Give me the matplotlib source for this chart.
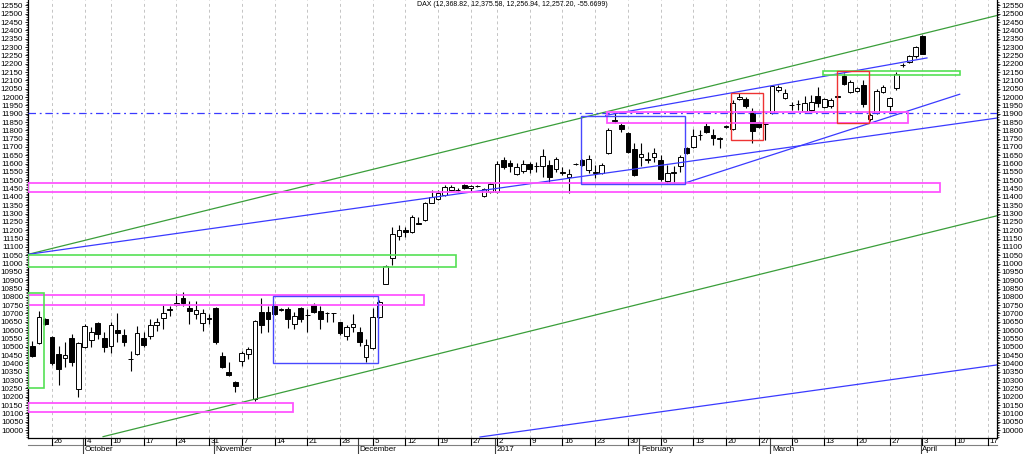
import matplotlib
matplotlib.use('Agg')
import matplotlib.pyplot as plt
import numpy as np
import pandas as pd
from matplotlib.patches import Rectangle
from matplotlib.transforms import blended_transform_factory

plt.rcParams['font.family'] = ['Liberation Sans', 'DejaVu Sans']

# trading days on the chart (Xetra closed on 3 Oct and 26 Dec)
days = pd.bdate_range('2016-09-21', '2017-04-03')
days = days[~days.isin(pd.to_datetime(['2016-10-03', '2016-12-26']))]
# empty space right of the last bar
future = pd.bdate_range('2017-04-04', '2017-04-18')
alldays = days.append(future)

opens = [10502, 10522, 10666, 10560, 10456, 10430, 10552, 10246,
         10496, 10542, 10642, 10552, 10502, 10602, 10572, 10428, 10456,
         10550, 10566, 10630, 10670, 10720, 10750, 10790, 10732, 10696, 10642,
         10668, 10730, 10446, 10346, 10286, 10416, 10456, 10186, 10707, 10707,
         10745, 10721, 10725, 10637, 10731, 10690, 10751, 10717, 10700, 10700,
         10651, 10565, 10617, 10591, 10437, 10491, 10681, 10880, 11032, 11166,
         11202, 11192, 11244, 11262, 11366, 11386, 11412, 11442, 11440, 11472,
         11452, 11464, 11406, 11432, 11432, 11622, 11602, 11538, 11558,
         11596, 11584, 11586, 11592, 11566, 11544, 11518, 11596, 11622, 11562,
         11544, 11546, 11666, 11856, 11832, 11782, 11686, 11638, 11624, 11642,
         11622, 11498, 11544, 11586, 11692, 11698, 11770, 11826, 11772, 11750,
         11820, 11806, 11986, 11986, 11915, 11850, 11836, 11906, 12042, 11992,
         11950, 11956, 11918, 11922, 12006, 11942, 11946, 12000, 12127, 12032,
         12038, 12073, 11866, 11906, 12032, 11946, 12052, 12190, 12213, 12247,
         12368.82]
highs = [10535, 10712, 10672, 10565, 10506, 10526, 10576, 10530,
         10636, 10616, 10646, 10586, 10646, 10700, 10606, 10476, 10622,
         10586, 10666, 10670, 10750, 10746, 10822, 10830, 10776, 10776, 10726,
         10696, 10736, 10470, 10410, 10296, 10476, 10496, 10660, 10791, 10745,
         10750, 10735, 10741, 10711, 10737, 10725, 10761, 10745, 10711, 10705,
         10651, 10631, 10697, 10621, 10545, 10731, 10781, 10992, 11222, 11232,
         11222, 11292, 11278, 11372, 11442, 11440, 11472, 11470, 11452, 11478,
         11472, 11474, 11454, 11490, 11618, 11638, 11622, 11602, 11622,
         11612, 11612, 11686, 11622, 11642, 11578, 11566, 11606, 11630, 11652,
         11592, 11602, 11812, 11902, 11842, 11792, 11722, 11722, 11672, 11692,
         11652, 11592, 11586, 11652, 11698, 11806, 11802, 11846, 11806, 11762,
         11830, 11982, 12022, 12002, 11932, 11852, 11842, 12072, 12072, 12046,
         11972, 11982, 12006, 12012, 12058, 11992, 11992, 12010, 12143, 12103,
         12058, 12103, 11902, 12046, 12072, 11998, 12153, 12207, 12253, 12307,
         12375.58]
lows = [10436, 10515, 10630, 10390, 10272, 10376, 10382, 10200,
        10490, 10496, 10546, 10470, 10462, 10526, 10506, 10356, 10452,
        10496, 10546, 10596, 10606, 10686, 10745, 10742, 10636, 10666, 10596,
        10636, 10516, 10370, 10326, 10226, 10386, 10426, 10176, 10581, 10591,
        10690, 10715, 10611, 10605, 10651, 10591, 10701, 10605, 10651, 10651,
        10571, 10541, 10591, 10505, 10411, 10485, 10675, 10875, 10992, 11142,
        11162, 11186, 11236, 11256, 11362, 11380, 11406, 11436, 11432, 11448,
        11430, 11458, 11400, 11426, 11426, 11566, 11552, 11530, 11546,
        11546, 11552, 11522, 11486, 11552, 11532, 11422, 11592, 11588, 11542,
        11512, 11540, 11660, 11842, 11792, 11662, 11526, 11586, 11602, 11612,
        11498, 11486, 11482, 11552, 11658, 11692, 11742, 11786, 11712, 11692,
        11816, 11800, 11980, 11932, 11722, 11816, 11742, 11900, 12032, 11986,
        11922, 11922, 11912, 11916, 11942, 11936, 11932, 11996, 12073, 12026,
        12030, 11938, 11858, 11900, 12026, 11912, 12043, 12179, 12203, 12233,
        12256.94]
closes = [10442, 10680, 10634, 10402, 10366, 10450, 10410, 10520,
          10622, 10590, 10576, 10500, 10630, 10582, 10530, 10424, 10582,
          10510, 10630, 10650, 10702, 10724, 10762, 10762, 10716, 10722, 10700,
          10672, 10530, 10380, 10330, 10266, 10462, 10486, 10652, 10631, 10665,
          10695, 10728, 10665, 10685, 10665, 10692, 10711, 10665, 10702, 10702,
          10581, 10617, 10637, 10531, 10511, 10681, 10771, 10986, 11178, 11202,
          11192, 11278, 11240, 11362, 11402, 11426, 11462, 11462, 11442, 11452,
          11466, 11466, 11446, 11478, 11598, 11582, 11586, 11582, 11598,
          11566, 11588, 11646, 11518, 11626, 11548, 11538, 11600, 11592, 11626,
          11548, 11590, 11802, 11860, 11806, 11672, 11532, 11658, 11628, 11666,
          11506, 11546, 11548, 11638, 11662, 11766, 11774, 11792, 11752, 11754,
          11824, 11962, 11998, 11946, 11797, 11822, 11840, 12066, 12058, 12022,
          11954, 11960, 11962, 11970, 11966, 11986, 11982, 12004, 12079, 12093,
          12052, 11958, 11892, 12038, 12058, 11992, 12139, 12194, 12247, 12303,
          12257.20]

title_txt = 'DAX (12,368.82, 12,375.58, 12,256.94, 12,257.20, -55.6699)'

# drawn trend lines: (bar numbers, prices)
green_top = ([-0.67, 147.4], [11055, 12490])
green_low = ([10.8, 147.4], [9960, 11287])
blue_long = ([-0.67, 147.4], [11055, 11874])
blue_top = ([87.6, 136.7], [11890, 12235])
blue_rise = ([99.9, 141.7], [11486, 12017])
blue_low = ([68.4, 147.4], [9958, 10391])
blue_level = 11904

# drawn boxes: bar from, bar to, low price, high price
boxes_magenta = [(-0.67, 138.7, 11430, 11486), (-0.67, 59.8, 10749, 10809),
                 (-0.67, 39.8, 10110, 10164), (87.8, 133.8, 11845, 11908)]
boxes_green = [(-0.67, 64.7, 10979, 11053), (-0.67, 1.8, 10250, 10824),
               (120.8, 141.8, 12133, 12157)]
boxes_blue = [(36.8, 52.8, 10401, 10807), (83.8, 99.8, 11478, 11886)]
boxes_red = [(106.8, 111.7, 11742, 12023), (122.9, 127.8, 11842, 12157)]

month_names = {10: 'October', 11: 'November', 12: 'December', 1: '2017',
               2: 'February', 3: 'March', 4: 'April'}

fig = plt.figure(figsize=(10.24, 4.54), dpi=100)
ax = fig.add_axes([28 / 1024, 16 / 454, 969 / 1024, 438 / 454])

o = np.array(opens)
c = np.array(closes)
x = np.arange(len(o))
up = c >= o

# week starts and month starts
week_idx = [i for i in range(1, len(alldays)) if alldays[i].weekday() < alldays[i - 1].weekday()]
month_idx = [i for i in range(1, len(alldays)) if alldays[i].month != alldays[i - 1].month]

for i in week_idx:
    ax.axvline(i, color='#c4c4c4', lw=0.7, ls=(0, (3, 3)), zorder=0)

ax.vlines(x, lows, highs, color='black', lw=0.8, zorder=2)
ax.bar(x, np.maximum(np.abs(c - o), 2), bottom=np.minimum(o, c), width=0.72,
       color=np.where(up, 'white', 'black'), edgecolor='black', linewidth=0.7, zorder=2.5)

for ln, col in [(green_top, '#3a9e3a'), (green_low, '#3a9e3a'), (blue_long, '#3a3aff'),
                (blue_top, '#3a3aff'), (blue_rise, '#3a3aff'), (blue_low, '#3a3aff')]:
    ax.plot(ln[0], ln[1], color=col, lw=0.9, zorder=3)
ax.axhline(blue_level, color='#3a3aff', lw=0.9, ls=(0, (6, 3, 1.5, 3)), zorder=3)

for boxes, col, lw in [(boxes_magenta, '#ff55ff', 1.3), (boxes_green, '#55e055', 1.2),
                       (boxes_blue, '#4848ff', 1.0), (boxes_red, '#ee3333', 1.0)]:
    for b in boxes:
        ax.add_patch(Rectangle((b[0], b[2]), b[1] - b[0], b[3] - b[2], fill=False,
                               edgecolor=col, lw=lw, zorder=3))

ax.set_xlim(-0.67, 147.4)
ax.set_ylim(9952, 12583)
ax.set_yticks(np.arange(10000, 12551, 50))
ax.set_yticks(np.arange(9960, 12580, 10), minor=True)
ax.tick_params(axis='y', which='major', labelsize=5.8, length=2.5, width=0.6, pad=1,
               left=True, right=True, labelleft=True, labelright=True)
ax.tick_params(axis='y', which='minor', length=1.2, width=0.5, left=True, right=True)
ax.set_xticks([])
ax.spines['top'].set_visible(False)
for s in ['left', 'right', 'bottom']:
    ax.spines[s].set_linewidth(0.9)

# date rows below the plot
tr = blended_transform_factory(ax.transData, ax.transAxes)
r1 = -7.3 / 438
r2 = -16.5 / 438
ax.plot([-0.67, 147.4], [r1, r1], transform=tr, color='#808080', lw=0.8, clip_on=False)
for i in week_idx:
    ax.plot([i, i], [0, r1], transform=tr, color='black', lw=0.8, clip_on=False)
    ax.text(i + 0.25, -3.7 / 438, str(alldays[i].day), transform=tr, fontsize=5.8,
            ha='left', va='center')
for i in month_idx:
    ax.plot([i - 0.25, i - 0.25], [0, r2], transform=tr, color='#404040', lw=0.8, clip_on=False)
    ax.text(i, -11.8 / 438, month_names[alldays[i].month], transform=tr, fontsize=5.8,
            ha='left', va='center')

fig.text(0.5, 1 - 5 / 454, title_txt, fontsize=5.0, ha='center', va='center')

fig.savefig('out.png', dpi=100)
